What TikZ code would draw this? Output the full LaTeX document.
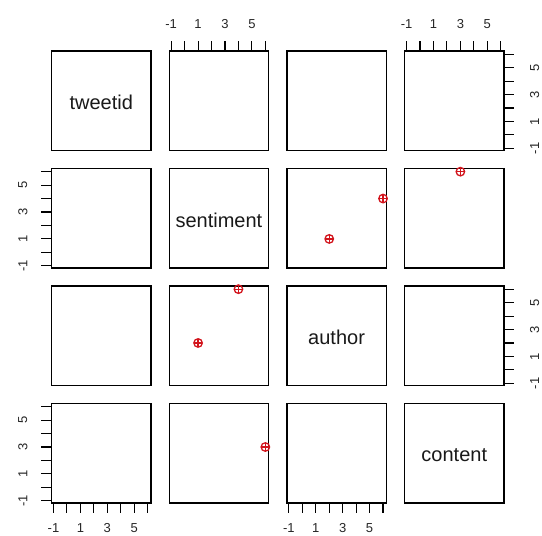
\documentclass[tikz,border=0pt]{standalone}
\usepackage{fontspec}
\setmainfont{Liberation Sans}
\definecolor{ptred}{RGB}{210,20,28}
\begin{document}
\begin{tikzpicture}[x=1pt,y=-1pt,
  panel/.style={draw,line width=1.3pt,minimum size=99.5pt,inner sep=0pt,anchor=north west},
  varname/.style={font=\fontsize{20}{24}\selectfont,text=black!90},
  ticklab/.style={font=\fontsize{13}{15}\selectfont,text=black!85,inner sep=0pt},
  tickline/.style={line width=1.1pt},
  datapt/.style={circle,draw=ptred,line width=1.3pt,minimum size=8.5pt,inner sep=0pt,
    path picture={\draw[ptred,line width=1.3pt] (path picture bounding box.north) -- (path picture bounding box.south)
      (path picture bounding box.west) -- (path picture bounding box.east);}}]
\useasboundingbox (0,0) rectangle (542,536);
% the 4x4 panels
\foreach \r in {1,...,4}
  \foreach \c in {1,...,4}
    \node[panel] (p\r\c) at ({50.8+(\c-1)*117.7},{50.2+(\r-1)*117.5}) {};
% variable names on the diagonal
\node[varname,yshift=-2pt] (name1) at (p11.center) {tweetid};
\node[varname,yshift=-2pt] (name2) at (p22.center) {sentiment};
\node[varname,yshift=-2pt] (name3) at (p33.center) {author};
\node[varname,yshift=-2pt] (name4) at (p44.center) {content};
% top axes
\foreach \c in {2,4} {
  \foreach \v in {-1,...,6}
    \draw[tickline] ([xshift={(\v+1.2)*13.45}]p1\c.north west) -- ++(0,-9.5);
  \foreach \v in {-1,1,3,5}
    \path ([xshift={(\v+1.2)*13.45}]p1\c.north west) ++(0,-26) node[ticklab] (top\c\v) {\v};
}
% bottom axes
\foreach \c in {1,3} {
  \foreach \v in {-1,...,6}
    \draw[tickline] ([xshift={(\v+1.2)*13.45}]p4\c.south west) -- ++(0,9.5);
  \foreach \v in {-1,1,3,5}
    \path ([xshift={(\v+1.2)*13.45}]p4\c.south west) ++(0,24.5) node[ticklab] (bot\c\v) {\v};
}
% right axes
\foreach \r in {1,3} {
  \foreach \v in {-1,...,6}
    \draw[tickline] ([yshift={(\v+1.2)*13.45}]p\r4.south east) -- ++(9.5,0);
  \foreach \v in {-1,1,3,5}
    \path ([yshift={(\v+1.2)*13.45}]p\r4.south east) ++(30,0) node[ticklab,rotate=90] (rgt\r\v) {\v};
}
% left axes
\foreach \r in {2,4} {
  \foreach \v in {-1,...,6}
    \draw[tickline] ([yshift={(\v+1.2)*13.45}]p\r1.south west) -- ++(-9.5,0);
  \foreach \v in {-1,1,3,5}
    \path ([yshift={(\v+1.2)*13.45}]p\r1.south west) ++(-28,0) node[ticklab,rotate=90] (lft\r\v) {\v};
}
% data points
\node[datapt] (a1) at ([xshift={3.2*13.45},yshift={2.2*13.45}]p23.south west) {};
\node[datapt] (a2) at ([xshift={7.2*13.45},yshift={5.2*13.45}]p23.south west) {};
\node[datapt] (b1) at ([xshift={4.2*13.45},yshift={7.2*13.45}]p24.south west) {};
\node[datapt] (c1) at ([xshift={2.2*13.45},yshift={3.2*13.45}]p32.south west) {};
\node[datapt] (c2) at ([xshift={5.2*13.45},yshift={7.2*13.45}]p32.south west) {};
\node[datapt] (e1) at ([xshift={7.2*13.45},yshift={4.2*13.45}]p42.south west) {};
\end{tikzpicture}
\end{document}
